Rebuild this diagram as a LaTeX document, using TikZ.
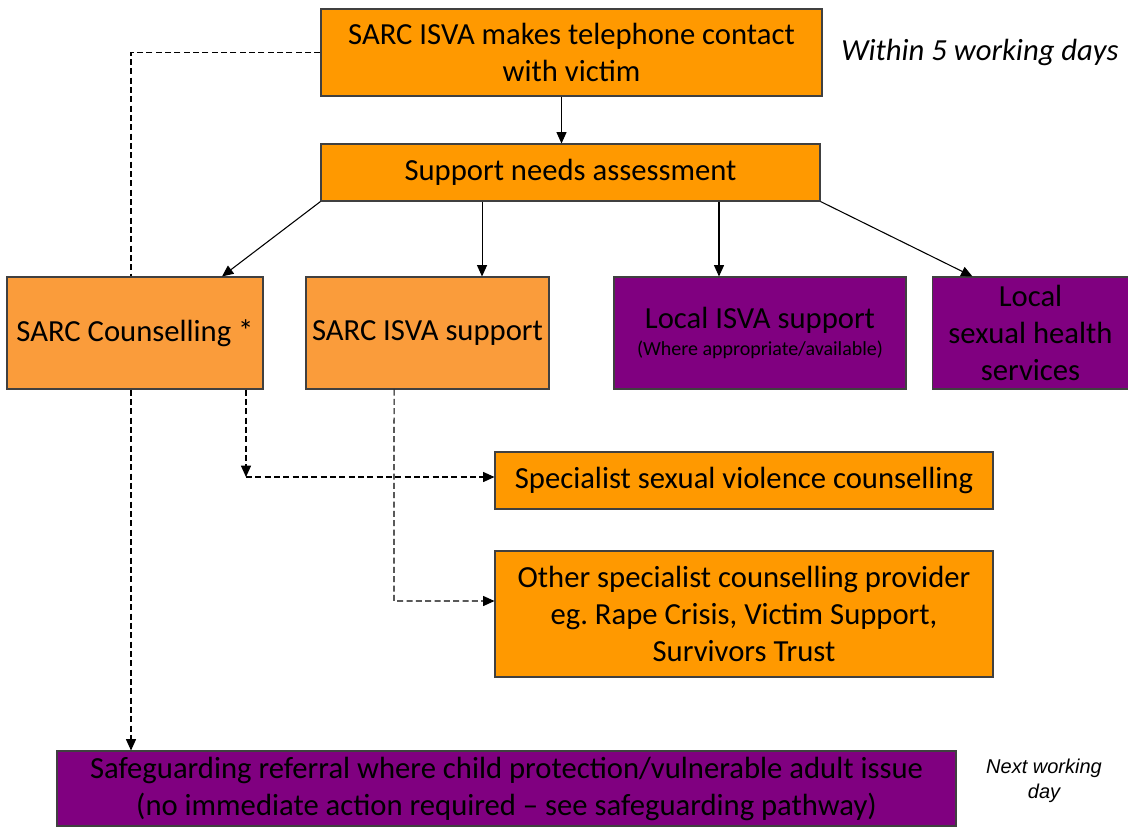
\documentclass[tikz,border=0pt]{standalone}
\usepackage{fontspec}
\setmainfont{Carlito}
\newfontfamily\notefont{Liberation Sans}
\usetikzlibrary{positioning,arrows.meta}

\definecolor{boxorange}{HTML}{FF9900}
\definecolor{sarcorange}{HTML}{FA9C3B}
\definecolor{boxpurple}{HTML}{800080}

\tikzset{
  stagebox/.style={draw=black!75,line width=0.8pt,rectangle,align=center,inner sep=2pt,
    font=\fontsize{23}{27.75}\selectfont},
  orangebox/.style={stagebox,fill=boxorange},
  sarcbox/.style={stagebox,fill=sarcorange},
  purplebox/.style={stagebox,fill=boxpurple},
  flow/.style={-{Triangle[length=8.5pt,width=7.5pt]},line width=0.8pt},
  maybe/.style={flow,dash pattern=on 4.5pt off 2.5pt}
}

\begin{document}
\begin{tikzpicture}[x=0.75pt,y=-0.75pt]
\useasboundingbox (0,0) rectangle (1128,826);
\node[orangebox,minimum width=375.75pt,minimum height=65.25pt] (contact) at (571.5,52.5)
  {SARC ISVA makes telephone contact\\with victim};
\node[orangebox,minimum width=374.25pt,minimum height=42.75pt] (assess) at (570.5,172.5)
  {Support needs assessment};
\node[sarcbox,minimum width=192pt,minimum height=84pt] (counsel) at (135,333) {SARC Counselling *};
\node[sarcbox,minimum width=182.25pt,minimum height=84pt] (isva) at (427.5,333) {SARC ISVA support};
\node[purplebox,minimum width=219pt,minimum height=84pt] (localisva) at (760,333)
  {Local ISVA support\\[-7pt]{\fontsize{15}{16}\selectfont (Where appropriate/available)}};
\node[purplebox,minimum width=147pt,minimum height=84pt] (health) at (1030.5,333)
  {Local\\sexual health\\services};
\node[orangebox,minimum width=373.5pt,minimum height=42.75pt] (special) at (744,480.5)
  {Specialist sexual violence counselling};
\node[orangebox,minimum width=373.5pt,minimum height=94.5pt] (other) at (744,614)
  {Other specialist counselling provider\\eg.\ Rape Crisis, Victim Support,\\Survivors Trust};
\node[purplebox,minimum width=674.25pt,minimum height=56.25pt] (safe) at (506.5,788.5)
  {Safeguarding referral where child protection/vulnerable adult issue\\(no immediate action required -- see safeguarding pathway)};
\node[font=\fontsize{23}{27}\selectfont\itshape] (within) at (980,52) {Within 5 working days};
\node[align=center,font=\notefont\fontsize{15}{19}\selectfont\itshape] (nextday) at (1044,781) {Next working\\day};

% solid arrows
\draw[flow] ([xshift=-7.5pt]contact.south) -- ([xshift=-7.5pt]contact.south |- assess.north);
\draw[flow] (assess.south west) -- ([xshift=65.25pt]counsel.north);
\draw[flow] ([xshift=40.9pt]isva.north |- assess.south) -- ([xshift=40.9pt]isva.north);
\draw[flow] ([xshift=-30.75pt]localisva.north |- assess.south) -- ([xshift=-30.75pt]localisva.north);
\draw[flow] (assess.south east) -- ([xshift=-43.5pt]health.north);

% dashed referrals
\coordinate (c1) at (246,477);
\coordinate (c2) at (394,601);
\draw[line width=0.8pt,dash pattern=on 4.5pt off 2.5pt] (contact.west) -| ([xshift=-3pt]counsel.north);
\draw[maybe] ([xshift=-3pt]counsel.south) -- ([xshift=-3pt]counsel.south |- safe.north);
\draw[maybe] ([xshift=83.25pt]counsel.south) -- (c1);
\draw[maybe] (c1) -- (c1 -| special.west);
\draw[maybe] ([xshift=-25.1pt]isva.south) -- (c2) -- (c2 -| other.west);
\end{tikzpicture}
\end{document}
